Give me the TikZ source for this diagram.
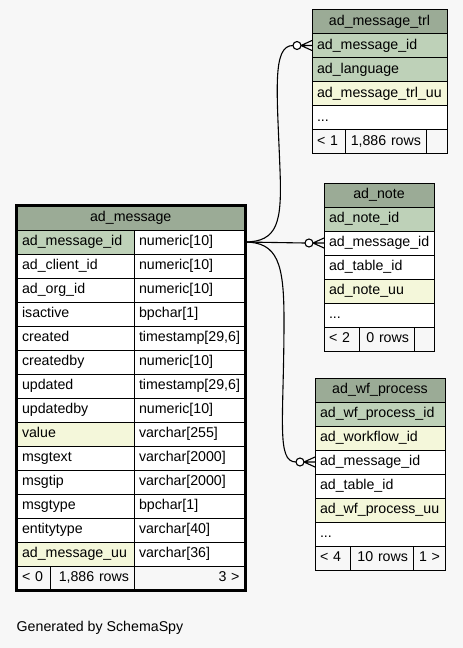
\documentclass[tikz,border=0pt]{standalone}
\usepackage{fontspec}
\setmainfont{Liberation Sans}
\usetikzlibrary{calc}
\definecolor{bgc}{HTML}{F7F7F7}
\definecolor{hdr}{HTML}{9BAB96}
\definecolor{pk}{HTML}{BED1B8}
\definecolor{idx}{HTML}{F4F7DA}
\newcommand\crowto[1]{%
  \draw[edge] ($(#1.west)+(-11,0)$) -- ($(#1.west)+(0,-5)$)
              ($(#1.west)+(-11,0)$) -- (#1.west)
              ($(#1.west)+(-11,0)$) -- ($(#1.west)+(0,5)$);
  \draw[edge, fill=white] ($(#1.west)+(-15,0)$) circle (4pt);}
\begin{document}
\begin{tikzpicture}[x=1pt,y=-1pt,
 cell/.style={draw=black, line width=0.9pt, fill=white, minimum height=24pt,
   inner xsep=5pt, inner ysep=0pt, outer sep=0pt, anchor=north west, align=left,
   text height=10pt, text depth=3pt, font=\fontsize{14.2}{16}\selectfont},
 hcell/.style={cell, fill=hdr, align=center},
 fcell/.style={cell, fill=bgc},
 rcell/.style={fcell, align=right},
 edge/.style={draw=black, line width=1.1pt}
]
\fill[bgc] (0,0) rectangle (463,648);

% ---------- ad_message ----------
\node[hcell, text width=217.5pt] (m-h) at (17,206) {ad\_message};
\foreach \i/\c/\t/\f in {
 1/{ad\_message\_id}/{numeric[10]}/pk,
 2/{ad\_client\_id}/{numeric[10]}/white,
 3/{ad\_org\_id}/{numeric[10]}/white,
 4/{isactive}/{bpchar[1]}/white,
 5/{created}/{timestamp[29,6]}/white,
 6/{createdby}/{numeric[10]}/white,
 7/{updated}/{timestamp[29,6]}/white,
 8/{updatedby}/{numeric[10]}/white,
 9/{value}/{varchar[255]}/idx,
 10/{msgtext}/{varchar[2000]}/white,
 11/{msgtip}/{varchar[2000]}/white,
 12/{msgtype}/{bpchar[1]}/white,
 13/{entitytype}/{varchar[40]}/white,
 14/{ad\_message\_uu}/{varchar[36]}/idx}{
 \node[cell, fill=\f, text width=107pt] (m-c\i) at (17, 206+24*\i) {\c};
 \node[cell, text width=100.5pt] (m-t\i) at (134, 206+24*\i) {\t};
}
\node[fcell, text width=23pt] (m-f1) at (17,566) {<~0};
\node[rcell, text width=74pt] (m-f2) at (50,566) {1,886~rows};
\node[rcell, text width=100.5pt] (m-f3) at (134,566) {3~>};
\draw[line width=3pt] (16,205.5) rectangle (245.5,590.5);

% ---------- ad_message_trl ----------
\node[hcell, text width=125pt] (trl-h) at (312,9.5) {ad\_message\_trl};
\node[cell, fill=pk, text width=125pt] (trl-1) at (312,33.5) {ad\_message\_id};
\node[cell, fill=pk, text width=125pt] (trl-2) at (312,57.5) {ad\_language};
\node[cell, fill=idx, text width=125pt] (trl-3) at (312,81.5) {ad\_message\_trl\_uu};
\node[cell, text width=125pt] (trl-4) at (312,105.5) {...};
\node[fcell, text width=23pt] (trl-f1) at (312,129.5) {<~1};
\node[rcell, text width=71pt] (trl-f2) at (345,129.5) {1,886~rows};
\node[fcell, text width=11pt] (trl-f3) at (426,129.5) {};

% ---------- ad_note ----------
\node[hcell, text width=100pt] (note-h) at (324,183) {ad\_note};
\node[cell, fill=pk, text width=100pt] (note-1) at (324,207) {ad\_note\_id};
\node[cell, text width=100pt] (note-2) at (324,231) {ad\_message\_id};
\node[cell, text width=100pt] (note-3) at (324,255) {ad\_table\_id};
\node[cell, fill=idx, text width=100pt] (note-4) at (324,279) {ad\_note\_uu};
\node[cell, text width=100pt] (note-5) at (324,303) {...};
\node[fcell, text width=25pt] (note-f1) at (324,327) {<~2};
\node[rcell, text width=45pt] (note-f2) at (359,327) {0~rows};
\node[fcell, text width=10pt] (note-f3) at (414,327) {};

% ---------- ad_wf_process ----------
\node[hcell, text width=120pt] (wf-h) at (315,378) {ad\_wf\_process};
\node[cell, fill=pk, text width=120pt] (wf-1) at (315,402) {ad\_wf\_process\_id};
\node[cell, fill=idx, text width=120pt] (wf-2) at (315,426) {ad\_workflow\_id};
\node[cell, text width=120pt] (wf-3) at (315,450) {ad\_message\_id};
\node[cell, text width=120pt] (wf-4) at (315,474) {ad\_table\_id};
\node[cell, fill=idx, text width=120pt] (wf-5) at (315,498) {ad\_wf\_process\_uu};
\node[cell, text width=120pt] (wf-6) at (315,522) {...};
\node[fcell, text width=25pt] (wf-f1) at (315,546) {<~4};
\node[rcell, text width=53pt] (wf-f2) at (350,546) {10~rows};
\node[rcell, text width=22pt] (wf-f3) at (413,546) {1~>};

% ---------- connectors ----------
\coordinate (e1) at ($(trl-1.west)+(-19,0)$);
\coordinate (e2) at ($(note-2.west)+(-19,0)$);
\coordinate (e3) at ($(wf-3.west)+(-19,0)$);
\draw[edge] (m-t1.east) .. controls (278,242) and (282,222) .. (280,170)
            .. controls (277,90) and (272,45.5) .. (e1);
\draw[edge] (m-t1.east) -- (e2);
\draw[edge] (m-t1.east) .. controls (278,242) and (284,264) .. (284,320)
            .. controls (284,420) and (276,462) .. (e3);
\crowto{trl-1}
\crowto{note-2}
\crowto{wf-3}

\node[anchor=west, inner sep=0pt, font=\fontsize{14.2}{16}\selectfont] (gen) at (16.5,628) {Generated by SchemaSpy};
\end{tikzpicture}
\end{document}
